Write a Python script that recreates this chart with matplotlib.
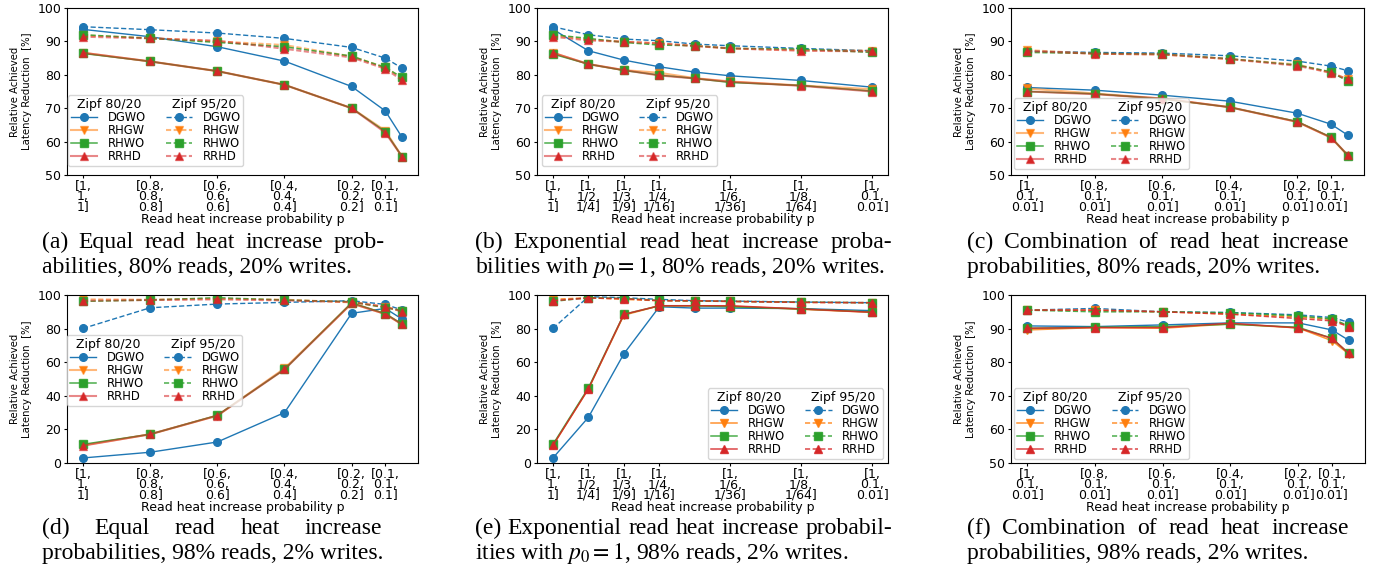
import matplotlib
matplotlib.use("Agg")
import matplotlib.pyplot as plt
from matplotlib.colors import to_rgba
from matplotlib.lines import Line2D
from matplotlib.transforms import IdentityTransform

plt.rcParams['font.family'] = ['DejaVu Sans']
plt.rcParams['mathtext.fontset'] = 'stix'
plt.rcParams['lines.scale_dashes'] = False

# ---------------- data ----------------
methods = ["DGWO", "RHGW", "RHWO", "RRHD"]
zipfs = ["Zipf 80/20", "Zipf 95/20"]

equal_p = [1, 0.8, 0.6, 0.4, 0.2, 0.1, 0.05]
equal_ticks = [1, 0.8, 0.6, 0.4, 0.2, 0.1]
equal_labels = ["[1,\n1,\n1]", "[0.8,\n0.8,\n0.8]", "[0.6,\n0.6,\n0.6]",
                "[0.4,\n0.4,\n0.4]", "[0.2,\n0.2,\n0.2]", "[0.1,\n0.1,\n0.1]"]

exp_k = [1, 2, 3, 4, 5, 6, 8, 10]
exp_ticks = [1, 2, 3, 4, 6, 8, 10]
exp_labels = ["[1,\n1,\n1]", "[1,\n1/2,\n1/4]", "[1,\n1/3,\n1/9]", "[1,\n1/4,\n1/16]",
              "[1,\n1/6,\n1/36]", "[1,\n1/8,\n1/64]", "[1,\n0.1,\n0.01]"]

combo_p = [1, 0.8, 0.6, 0.4, 0.2, 0.1, 0.05]
combo_ticks = [1, 0.8, 0.6, 0.4, 0.2, 0.1]
combo_labels = ["[1,\n0.1,\n0.01]", "[0.8,\n0.1,\n0.01]", "[0.6,\n0.1,\n0.01]",
                "[0.4,\n0.1,\n0.01]", "[0.2,\n0.1,\n0.01]", "[0.1,\n0.1,\n0.01]"]

# (a) equal, 80% reads
a_dgwo_80 = [93.6, 91.4, 88.4, 84.1, 76.5, 69.2, 61.3]
a_rhgw_80 = [86.6, 84.0, 81.1, 77.0, 70.0, 63.3, 55.5]
a_rhwo_80 = [86.4, 84.0, 81.1, 77.0, 70.0, 63.0, 55.5]
a_rrhd_80 = [86.6, 84.0, 81.1, 77.0, 70.0, 62.7, 55.5]
a_dgwo_95 = [94.4, 93.5, 92.5, 90.9, 88.2, 85.0, 82.0]
a_rhgw_95 = [91.8, 91.0, 90.0, 88.9, 85.5, 82.2, 79.0]
a_rhwo_95 = [92.0, 90.9, 89.7, 88.4, 85.6, 82.2, 79.2]
a_rrhd_95 = [91.4, 90.9, 90.2, 87.8, 85.2, 81.8, 78.4]

# (b) exponential, 80% reads
b_dgwo_80 = [93.6, 87.2, 84.4, 82.4, 80.8, 79.7, 78.3, 76.3]
b_rhgw_80 = [86.6, 83.2, 81.4, 80.6, 79.0, 78.0, 76.8, 75.7]
b_rhwo_80 = [86.2, 83.2, 81.3, 79.9, 78.9, 77.7, 76.8, 75.1]
b_rrhd_80 = [86.6, 83.2, 81.4, 79.8, 78.9, 77.9, 76.7, 75.0]
b_dgwo_95 = [94.4, 92.0, 90.7, 90.2, 89.2, 88.7, 87.9, 87.2]
b_rhgw_95 = [91.8, 90.6, 89.9, 89.4, 88.7, 87.9, 87.4, 87.2]
b_rhwo_95 = [92.0, 90.9, 89.7, 88.9, 88.7, 87.9, 87.7, 86.7]
b_rrhd_95 = [91.4, 90.3, 89.9, 89.4, 88.6, 87.9, 87.2, 87.0]

# (c) combination, 80% reads
c_dgwo_80 = [76.2, 75.4, 73.9, 72.1, 68.5, 65.2, 61.9]
c_rhgw_80 = [75.9, 74.4, 72.9, 70.3, 65.9, 61.2, 55.8]
c_rhwo_80 = [75.0, 74.3, 72.8, 70.3, 66.0, 61.3, 55.8]
c_rrhd_80 = [75.0, 74.2, 72.9, 70.3, 65.9, 61.2, 55.9]
c_dgwo_95 = [87.1, 86.7, 86.5, 85.7, 84.1, 82.6, 81.2]
c_rhgw_95 = [87.4, 86.3, 86.1, 84.7, 83.1, 80.6, 78.7]
c_rhwo_95 = [86.7, 86.4, 86.2, 84.8, 82.9, 80.9, 78.0]
c_rrhd_95 = [87.1, 86.3, 86.1, 84.7, 82.7, 80.6, 78.6]

# (d) equal, 98% reads
d_dgwo_80 = [3.0, 6.4, 12.5, 30.0, 89.1, 92.0, 85.7]
d_rhgw_80 = [10.5, 17.1, 28.2, 56.3, 95.0, 88.7, 82.5]
d_rhwo_80 = [11.1, 17.1, 28.4, 55.7, 95.4, 88.9, 82.7]
d_rrhd_80 = [10.3, 17.1, 28.2, 55.7, 95.0, 88.7, 82.5]
d_dgwo_95 = [80.1, 92.4, 94.6, 95.6, 96.6, 94.4, 91.1]
d_rhgw_95 = [97.4, 97.2, 97.8, 97.2, 95.6, 93.0, 90.5]
d_rhwo_95 = [96.2, 97.0, 98.4, 97.0, 96.0, 92.4, 90.7]
d_rrhd_95 = [96.6, 97.0, 97.4, 96.8, 95.8, 93.0, 90.1]

# (e) exponential, 98% reads
e_dgwo_80 = [3.0, 27.2, 65.0, 93.0, 92.2, 92.2, 91.9, 90.7]
e_rhgw_80 = [10.5, 44.1, 88.0, 93.6, 93.6, 93.4, 91.5, 89.7]
e_rhwo_80 = [11.1, 44.7, 88.5, 93.6, 93.6, 93.0, 91.7, 89.9]
e_rrhd_80 = [10.5, 44.1, 88.5, 93.6, 93.6, 93.6, 91.7, 89.7]
e_dgwo_95 = [80.1, 99.0, 98.4, 97.4, 96.6, 96.4, 95.8, 95.4]
e_rhgw_95 = [97.4, 98.4, 97.4, 96.6, 96.4, 96.2, 95.6, 95.4]
e_rhwo_95 = [96.2, 98.4, 98.0, 96.8, 96.4, 96.2, 95.8, 95.4]
e_rrhd_95 = [96.6, 98.2, 97.8, 96.6, 96.6, 96.2, 95.6, 95.4]

# (f) combination, 98% reads
f_dgwo_80 = [90.8, 90.6, 91.1, 91.7, 91.7, 89.6, 86.5]
f_rhgw_80 = [89.6, 90.3, 90.1, 91.4, 90.2, 86.4, 82.4]
f_rhwo_80 = [90.1, 90.4, 90.6, 91.3, 90.4, 87.1, 82.6]
f_rrhd_80 = [90.1, 90.3, 90.3, 91.6, 90.2, 87.1, 82.6]
f_dgwo_95 = [95.5, 96.0, 95.0, 94.8, 94.1, 93.3, 91.9]
f_rhgw_95 = [95.5, 95.5, 95.0, 94.3, 93.5, 92.7, 90.6]
f_rhwo_95 = [95.5, 95.0, 95.0, 94.7, 93.8, 92.9, 90.8]
f_rrhd_95 = [95.5, 95.5, 95.0, 94.3, 93.0, 92.3, 90.6]

captions = [
    ("(a) Equal read heat increase prob-", "abilities, 80% reads, 20% writes."),
    ("(b) Exponential read heat increase proba-", "bilities with $p_0 = 1$, 80% reads, 20% writes."),
    ("(c) Combination of read heat increase", "probabilities, 80% reads, 20% writes."),
    ("(d) Equal read heat increase", "probabilities, 98% reads, 2% writes."),
    ("(e) Exponential read heat increase probabil-", "ities with $p_0 = 1$, 98% reads, 2% writes."),
    ("(f) Combination of read heat increase", "probabilities, 98% reads, 2% writes."),
]

# ---------------- layout / style ----------------
W, H = 1374, 567
fig = plt.figure(figsize=(W / 100, H / 100), dpi=100)

def rect(l, t, r, b):
    return [l / W, 1 - b / H, (r - l) / W, (b - t) / H]

colors = {"DGWO": "C0", "RHGW": "C1", "RHWO": "C2", "RRHD": "C3"}
marks = {"DGWO": "o", "RHGW": "v", "RHWO": "s", "RRHD": "^"}
soft = {"DGWO": (1.0, 1.0), "RHGW": (1.5, 0.55), "RHWO": (1.1, 0.85), "RRHD": (1.5, 0.55)}
plain = {"DGWO": (1.0, 1.0), "RHGW": (1.1, 0.85), "RHWO": (1.1, 0.85), "RRHD": (1.1, 0.85)}

panels = [
    dict(rect=(67, 8, 418, 175), x=equal_p, ticks=equal_ticks, labels=equal_labels,
         ylim=(50, 100), yticks=range(50, 101, 10), style=soft,
         s80=[a_dgwo_80, a_rhgw_80, a_rhwo_80, a_rrhd_80], s95=[a_dgwo_95, a_rhgw_95, a_rhwo_95, a_rrhd_95],
         leg=("lower left", (0.003, 0.054)), cap=(42, 385, 248)),
    dict(rect=(537, 8, 888, 175), x=exp_k, ticks=exp_ticks, labels=exp_labels,
         ylim=(50, 100), yticks=range(50, 101, 10), style=soft,
         s80=[b_dgwo_80, b_rhgw_80, b_rhwo_80, b_rrhd_80], s95=[b_dgwo_95, b_rhgw_95, b_rhwo_95, b_rrhd_95],
         leg=("lower left", (0.014, 0.054)), cap=(475, 892, 248)),
    dict(rect=(1011, 8, 1364, 175), x=combo_p, ticks=combo_ticks, labels=combo_labels,
         ylim=(50, 100), yticks=range(50, 101, 10), style=soft,
         s80=[c_dgwo_80, c_rhgw_80, c_rhwo_80, c_rrhd_80], s95=[c_dgwo_95, c_rhgw_95, c_rhwo_95, c_rrhd_95],
         leg=("lower left", (0.0085, 0.036)), cap=(967, 1349, 248)),
    dict(rect=(67, 295, 418, 463), x=equal_p, ticks=equal_ticks, labels=equal_labels,
         ylim=(0, 100), yticks=range(0, 101, 20), style=soft,
         s80=[d_dgwo_80, d_rhgw_80, d_rhwo_80, d_rrhd_80], s95=[d_dgwo_95, d_rhgw_95, d_rhwo_95, d_rrhd_95],
         leg=("upper left", (0.0, 0.762)), cap=(42, 382, 534)),
    dict(rect=(537, 295, 888, 463), x=exp_k, ticks=exp_ticks, labels=exp_labels,
         ylim=(0, 100), yticks=range(0, 101, 20), style=plain,
         s80=[e_dgwo_80, e_rhgw_80, e_rhwo_80, e_rrhd_80], s95=[e_dgwo_95, e_rhgw_95, e_rhwo_95, e_rrhd_95],
         leg=("lower right", (0.986, 0.024)), cap=(475, 892, 534)),
    dict(rect=(1011, 295, 1365, 463), x=combo_p, ticks=combo_ticks, labels=combo_labels,
         ylim=(50, 100), yticks=range(50, 101, 10), style=plain,
         s80=[f_dgwo_80, f_rhgw_80, f_rhwo_80, f_rrhd_80], s95=[f_dgwo_95, f_rhgw_95, f_rhwo_95, f_rrhd_95],
         leg=("lower left", (0.0085, 0.024)), cap=(967, 1349, 534)),
]

renderer = fig.canvas.get_renderer()
cap_font = dict(family="Liberation Serif", fontsize=17)

def place_caption(line1, line2, x0, x1, base):
    words = line1.split(" ")
    ts = [fig.text(0, 0, w, transform=IdentityTransform(), ha="left", va="baseline", **cap_font)
          for w in words]
    widths = [t.get_window_extent(renderer).width for t in ts]
    gap = max((x1 - x0 - sum(widths)) / (len(words) - 1), 5.0)
    x = x0
    for t, w in zip(ts, widths):
        t.set_position((x, H - base))
        x += w + gap
    fig.text(x0, H - (base + 25), line2, transform=IdentityTransform(),
             ha="left", va="baseline", **cap_font)

for i, p in enumerate(panels):
    ax = fig.add_axes(rect(*p["rect"]))
    handles = {}
    for zi, (series, ls) in enumerate([(p["s80"], "-"), (p["s95"], "--")]):
        hs = []
        for m, y in zip(methods, series):
            lw, al = p["style"][m]
            ln, = ax.plot(p["x"], y, linestyle=ls, marker=marks[m], color=to_rgba(colors[m], al),
                          mfc=colors[m], mec=to_rgba(colors[m], al), lw=lw, ms=5.5,
                          dashes=(3.7, 1.8) if ls == "--" else (None, None), label=m)
            hs.append(ln)
        handles[zi] = hs
    if p["x"] is not exp_k:
        ax.invert_xaxis()
    ax.set_ylim(*p["ylim"])
    ax.set_yticks(list(p["yticks"]))
    ax.set_xticks(p["ticks"])
    ax.set_xticklabels(p["labels"], fontsize=9, linespacing=0.72)
    ax.tick_params(axis="y", labelsize=9, length=2.5, pad=1.5)
    ax.tick_params(axis="x", length=2.5, pad=1)
    ax.set_ylabel("Relative Achieved\nLatency Reduction  [%]", fontsize=7.3)
    ax.yaxis.set_label_coords(-0.1, 0.5)
    ax.set_xlabel("Read heat increase probability p", fontsize=9)
    ax.xaxis.set_label_coords(0.5, -0.228)

    blank = Line2D([], [], linestyle="none")
    hl = [blank] + handles[0] + [blank] + handles[1]
    ll = [zipfs[0]] + methods + [zipfs[1]] + methods
    loc, anchor = p["leg"]
    leg = ax.legend(hl, ll, ncol=2, loc=loc, bbox_to_anchor=anchor, fontsize=8.3,
                    handlelength=2.3, handletextpad=0.9, columnspacing=1.7,
                    labelspacing=0.0, borderpad=0.25, borderaxespad=0)
    texts = leg.get_texts()
    texts[0].set_fontsize(9)
    texts[5].set_fontsize(9)
    for col in leg._legend_handle_box.get_children():
        hdr = col.get_children()[0]
        da = hdr.get_children()[0]
        da.width = 0
        hdr.sep = 4.5

    x0, x1, base = p["cap"]
    place_caption(captions[i][0], captions[i][1], x0, x1, base)

fig.savefig("out.png", dpi=100)
